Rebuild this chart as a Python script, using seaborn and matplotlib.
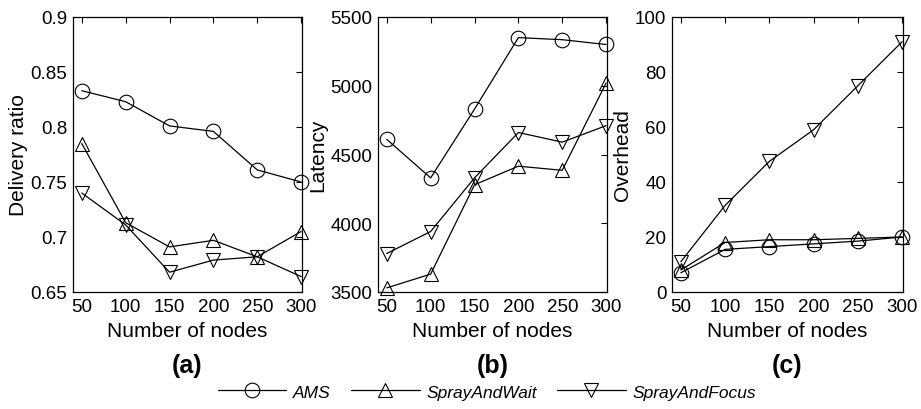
import pandas as pd
import matplotlib.pyplot as plt
import seaborn as sns
from matplotlib.lines import Line2D

nodes = [50, 100, 150, 200, 250, 300]
protocols = ["AMS", "SprayAndWait", "SprayAndFocus"]

delivery_ams = [0.833, 0.823, 0.801, 0.796, 0.761, 0.750]
delivery_saw = [0.785, 0.713, 0.691, 0.697, 0.682, 0.705]
delivery_saf = [0.740, 0.711, 0.668, 0.679, 0.682, 0.664]

latency_ams = [4610, 4330, 4830, 5350, 5335, 5300]
latency_saw = [3530, 3630, 4280, 4415, 4385, 5020]
latency_saf = [3780, 3940, 4330, 4660, 4590, 4710]

overhead_ams = [7, 15.5, 16.5, 17.5, 18.5, 20]
overhead_saw = [8, 18, 19, 19, 19.5, 20]
overhead_saf = [11, 31.5, 47.5, 59, 75, 91]

markers = {"AMS": "o", "SprayAndWait": "^", "SprayAndFocus": "v"}


def long_table(ams, saw, saf):
    rows = []
    for name, vals in zip(protocols, [ams, saw, saf]):
        for n, v in zip(nodes, vals):
            rows.append({"nodes": n, "value": v, "protocol": name})
    return pd.DataFrame(rows)


sns.set_theme(style="white")
plt.rcParams["font.family"] = ["Liberation Sans", "DejaVu Sans"]
plt.rcParams["text.color"] = "black"
plt.rcParams["axes.labelcolor"] = "black"

fig = plt.figure(figsize=(9.21, 4.10), dpi=100)
W, H = 921, 410
boxes = [(73, 229), (378, 229), (672, 231)]
bottom, top = 293, 18

panels = [
    (long_table(delivery_ams, delivery_saw, delivery_saf), "Delivery ratio",
     (0.65, 0.9), [0.65, 0.7, 0.75, 0.8, 0.85, 0.9], ["0.65", "0.7", "0.75", "0.8", "0.85", "0.9"], "(a)"),
    (long_table(latency_ams, latency_saw, latency_saf), "Latency",
     (3500, 5500), [3500, 4000, 4500, 5000, 5500], None, "(b)"),
    (long_table(overhead_ams, overhead_saw, overhead_saf), "Overhead",
     (0, 100), [0, 20, 40, 60, 80, 100], None, "(c)"),
]

for (left, width), (df, ylabel, ylim, yticks, ytl, tag) in zip(boxes, panels):
    ax = fig.add_axes([left / W, 1 - bottom / H, width / W, (bottom - top) / H])
    sns.lineplot(data=df, x="nodes", y="value", style="protocol", markers=markers,
                 dashes=False, color="black", linewidth=0.9, markersize=10.5,
                 markerfacecolor="none", markeredgecolor="black", markeredgewidth=0.8,
                 legend=False, ax=ax, clip_on=False)
    ax.set_xlim(40, 301)
    ax.set_ylim(*ylim)
    ax.set_xticks(nodes)
    ax.set_yticks(yticks)
    if ytl:
        ax.set_yticklabels(ytl)
    ax.tick_params(direction="in", top=True, right=True, length=4, width=0.8,
                   labelsize=13.5, colors="black", pad=4)
    for s in ax.spines.values():
        s.set_color("black")
        s.set_linewidth(0.9)
    ax.set_xlabel("Number of nodes", fontsize=15, labelpad=5)
    ax.set_ylabel(ylabel, fontsize=15, labelpad=2)
    ax.text(0.5, -0.265, tag, transform=ax.transAxes, ha="center", va="center",
            fontsize=18, fontweight="bold")

handles = [Line2D([], [], color="black", linewidth=0.9, marker=markers[p], markersize=10.5,
                  markerfacecolor="none", markeredgewidth=0.8) for p in protocols]
fig.legend(handles, protocols, loc="center", bbox_to_anchor=(487 / W, 1 - 393 / H),
           ncol=3, frameon=False, handlelength=3.95, columnspacing=1.15, handletextpad=0.4,
           prop={"style": "italic", "size": 12.5})

fig.savefig("out.png", dpi=100)
